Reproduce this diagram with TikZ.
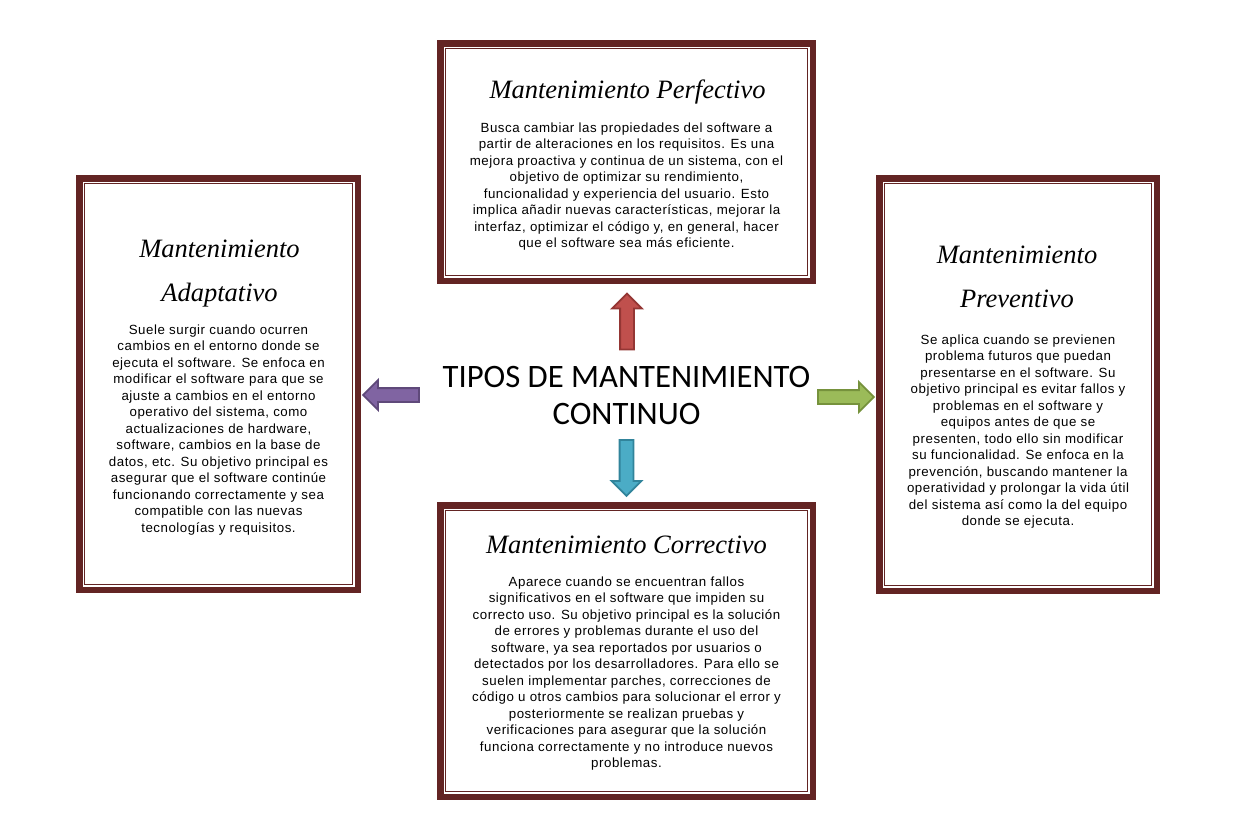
\documentclass[tikz,border=0pt]{standalone}
\usepackage{fontspec}
\setmainfont{Liberation Sans}[LetterSpace=4]
\newfontfamily\titlefont{Liberation Serif}
\newfontfamily\centrefont{Carlito}
\usepackage{tikz}
\usetikzlibrary{shapes.arrows,calc}

\definecolor{framered}{HTML}{632423}
\definecolor{redfill}{HTML}{C0504D}
\definecolor{reddraw}{HTML}{943634}
\definecolor{purplefill}{HTML}{8064A2}
\definecolor{purpledraw}{HTML}{5F497A}
\definecolor{greenfill}{HTML}{9BBB59}
\definecolor{greendraw}{HTML}{76923C}
\definecolor{bluefill}{HTML}{4BACC6}
\definecolor{bluedraw}{HTML}{31849B}

\begin{document}
\begin{tikzpicture}[x=1pt, y=-1pt,
frame/.style={draw=framered, line width=6.5pt, outer sep=0pt, inner sep=0pt, fill=white},
innerframe/.style={draw=framered, line width=1.8pt},
title/.style={font=\titlefont\itshape\fontsize{26.5}{44}\selectfont, align=center, anchor=north, inner sep=0pt},
body/.style={font=\fontsize{13.3}{16.5}\selectfont, align=center, anchor=north, inner sep=0pt},
blockarrow/.style={single arrow, line width=1.8pt, minimum height=56pt, minimum width=28pt, single arrow head extend=8pt, inner xsep=0pt, inner ysep=6pt}
]
\fill[white] (0,0) rectangle (1246,838);
\useasboundingbox (0,0) rectangle (1246,838);

\node[frame, minimum width=372.5pt, minimum height=237.5pt] (perfectivo) at (626.5,162) {};
\node[frame, minimum width=278.5pt, minimum height=411.5pt] (adaptativo) at (218.5,384) {};
\node[frame, minimum width=277.5pt, minimum height=412.5pt] (preventivo) at (1018,384.5) {};
\node[frame, minimum width=372.5pt, minimum height=291.5pt] (correctivo) at (626.5,651) {};
\foreach \b in {perfectivo,adaptativo,preventivo,correctivo}
  \draw[innerframe] ($(\b.north west)+(5.25,5.25)$) rectangle ($(\b.south east)+(-5.25,-5.25)$);

\node[title] (perfectivo-title) at (627.5,67.2) {\strut Mantenimiento Perfectivo};
\node[body] (perfectivo-text) at (626.5,120.45) {\strut Busca cambiar las propiedades del software a\\
partir de alteraciones en los requisitos. Es una\\
mejora proactiva y continua de un sistema, con el\\
objetivo de optimizar su rendimiento,\\
funcionalidad y experiencia del usuario. Esto\\
implica añadir nuevas características, mejorar la\\
interfaz, optimizar el código y, en general, hacer\\
que el software sea más eficiente.};

\node[title] (adaptativo-title) at (219.5,226.2) {\strut Mantenimiento\\Adaptativo};
\node[body] (adaptativo-text) at (218.5,322.45) {\strut Suele surgir cuando ocurren\\
cambios en el entorno donde se\\
ejecuta el software. Se enfoca en\\
modificar el software para que se\\
ajuste a cambios en el entorno\\
operativo del sistema, como\\
actualizaciones de hardware,\\
software, cambios en la base de\\
datos, etc. Su objetivo principal es\\
asegurar que el software continúe\\
funcionando correctamente y sea\\
compatible con las nuevas\\
tecnologías y requisitos.};

\node[title] (preventivo-title) at (1017,232.2) {\strut Mantenimiento\\Preventivo};
\node[body] (preventivo-text) at (1018,332.45) {\strut Se aplica cuando se previenen\\
problema futuros que puedan\\
presentarse en el software. Su\\
objetivo principal es evitar fallos y\\
problemas en el software y\\
equipos antes de que se\\
presenten, todo ello sin modificar\\
su funcionalidad. Se enfoca en la\\
prevención, buscando mantener la\\
operatividad y prolongar la vida útil\\
del sistema así como la del equipo\\
donde se ejecuta.};

\node[title] (correctivo-title) at (626.5,522.2) {\strut Mantenimiento Correctivo};
\node[body] (correctivo-text) at (626.5,574.45) {\strut Aparece cuando se encuentran fallos\\
significativos en el software que impiden su\\
correcto uso. Su objetivo principal es la solución\\
de errores y problemas durante el uso del\\
software, ya sea reportados por usuarios o\\
detectados por los desarrolladores. Para ello se\\
suelen implementar parches, correcciones de\\
código u otros cambios para solucionar el error y\\
posteriormente se realizan pruebas y\\
verificaciones para asegurar que la solución\\
funciona correctamente y no introduce nuevos\\
problemas.};

\node[font=\centrefont\fontsize{32.7}{37}\selectfont, align=center, anchor=north, inner sep=0pt] (tipos) at (626.5,361.1) {\strut TIPOS DE MANTENIMIENTO\\CONTINUO};

\node[blockarrow, fill=redfill, draw=reddraw, rotate=90] (toperfectivo) at (627,325) {};
\node[blockarrow, fill=purplefill, draw=purpledraw, rotate=180] (toadaptativo) at (394.5,395) {};
\node[blockarrow, fill=greenfill, draw=greendraw] (topreventivo) at (842.5,397) {};
\node[blockarrow, fill=bluefill, draw=bluedraw, rotate=-90] (tocorrectivo) at (626.5,464.5) {};
\end{tikzpicture}
\end{document}
